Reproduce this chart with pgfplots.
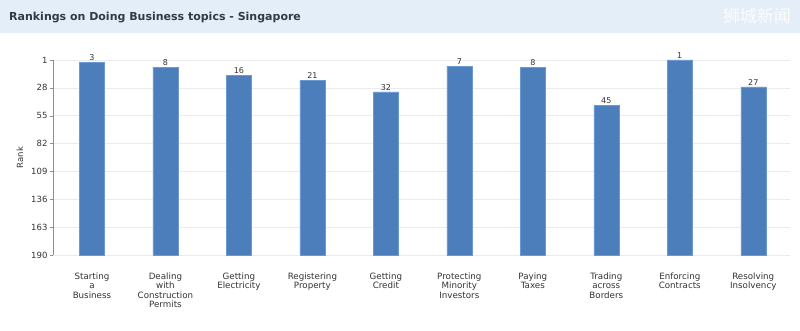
\documentclass[border=0pt]{standalone}
\usepackage{fontspec}
\setmainfont{DejaVu Sans}
\newfontfamily\cjk{Noto Sans CJK SC}
\usepackage{pgfplots}
\pgfplotsset{compat=1.18}
\usepackage{pgfplotstable}
\usetikzlibrary{backgrounds}
\definecolor{barblue}{HTML}{4C7EBC}
\definecolor{baredge}{HTML}{6C9AD0}
\definecolor{titlebg}{HTML}{E4EEF8}
\definecolor{titletext}{HTML}{333A44}
\definecolor{gridc}{HTML}{E8EBEF}
\definecolor{axisc}{HTML}{8A8F96}
\definecolor{textc}{HTML}{333333}

\pgfplotstableread{
x rank
0 3
1 8
2 16
3 21
4 32
5 7
6 8
7 45
8 1
9 27
}\ranks

\begin{document}
\begin{tikzpicture}[x=1pt,y=1pt]
\begin{axis}[
  scale only axis,
  width=737pt, height=195pt,
  xmin=-0.53, xmax=9.5,
  y coord trafo/.code={\pgfmathparse{190-#1}},
  y coord inv trafo/.code={\pgfmathparse{190-#1}},
  ymin=190, ymax=1,
  ytick={1,28,55,82,109,136,163,190},
  yticklabels={1,28,55,82,109,136,163,190},
  /pgf/number format/assume math mode=true,
  yticklabel style={font=\fontsize{8.5}{10}\selectfont, text=textc, xshift=1pt},
  ylabel={Rank},
  ylabel style={font=\fontsize{8.5}{10}\selectfont, text=textc, at={(axis description cs:0,0.5)}, anchor=center, yshift=33pt},
  axis y line*=left,
  axis x line*=bottom,
  x axis line style={draw=none},
  y axis line style={draw=axisc},
  ytick style={draw=axisc},
  tick align=outside,
  major tick length=3pt,
  xtick={0,1,2,3,4,5,6,7,8,9},
  xtick style={draw=none},
  xticklabels={{Starting\\a\\Business},{Dealing\\with\\Construction\\Permits},{Getting\\Electricity},{Registering\\Property},{Getting\\Credit},{Protecting\\Minority\\Investors},{Paying\\Taxes},{Trading\\across\\Borders},{Enforcing\\Contracts},{Resolving\\Insolvency}},
  xticklabel style={align=center, font=\fontsize{8.7}{9.6}\selectfont, text=textc, anchor=north, yshift=-11pt},
  ymajorgrids,
  grid style={draw=gridc, line width=0.6pt},
  clip=false,
]
\addplot[ybar, bar width=25pt, fill=barblue, draw=baredge, line width=0.5pt,
  point meta=explicit,
  nodes near coords={\pgfmathprintnumber{\pgfplotspointmeta}},
  nodes near coords style={font=\fontsize{8}{9}\selectfont, text=textc, inner sep=1.5pt}]
  table[x=x, y=rank, meta=rank] {\ranks};
\coordinate (BL) at (rel axis cs:0,0);
\end{axis}
\begin{scope}[shift={(BL)}, shift={(-53,-76)}]
  \begin{pgfonlayer}{background}
    \fill[white] (0,0) rectangle (800,331);
  \end{pgfonlayer}
  \fill[titlebg] (0,298) rectangle (800,331);
  \node[anchor=west, font=\bfseries\fontsize{11}{13}\selectfont, text=titletext, inner sep=0] at (9,313) {Rankings on Doing Business topics - Singapore};
  \node[anchor=east, font=\cjk\fontsize{17}{18}\selectfont, text=white, opacity=0.85, inner sep=0] at (791,315) {狮城新闻};
\end{scope}
\pgfresetboundingbox
\path[use as bounding box] ([shift={(-53,-76)}]BL) rectangle ([shift={(747,255)}]BL);
\end{tikzpicture}
\end{document}
